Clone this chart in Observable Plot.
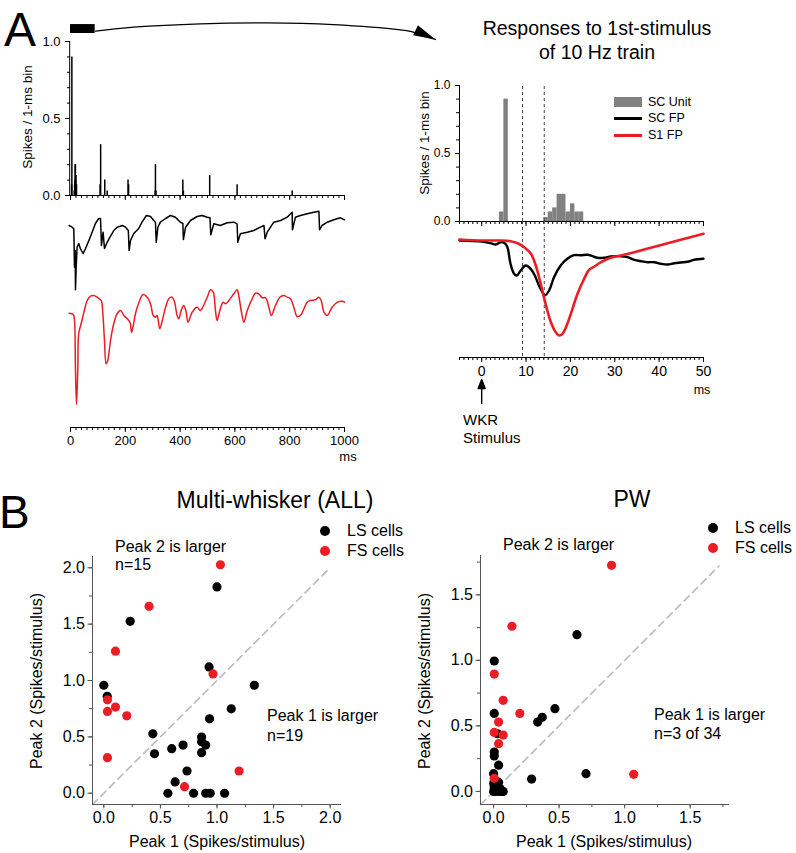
<!DOCTYPE html>
<html><head><meta charset="utf-8">
<script src="https://cdn.jsdelivr.net/npm/d3@7"></script>
<script src="https://cdn.jsdelivr.net/npm/@observablehq/plot@0.6"></script>
<style>
body{margin:0;background:#fff;}
#root{position:relative;width:796px;height:853px;overflow:hidden;background:#fff;font-family:"Liberation Sans",Arial,sans-serif;color:#000;}
</style></head><body><div id="root"></div><script>
// ---------- DATA ----------
// Panel A left: PSTH of the 10 Hz train (1-ms bins)
const trainBinMs  = [4, 5, 14, 15, 16, 17, 18, 19, 20, 21, 22, 108, 110, 125, 134, 210, 212, 309, 310, 312, 410, 412, 508, 608, 809];
const trainBinVal = [0.07, 0.9, 0.03, 0.07, 0.1, 0.2, 0.2, 0.07, 0.13, 0.07, 0.07, 0.07, 0.33, 0.1, 0.03, 0.1, 0.07, 0.03, 0.2, 0.03, 0.1, 0.03, 0.13, 0.07, 0.03];
const stimBlock = [0, 90];                 // ms window enlarged at right
// curved link from the block to the enlarged panel (ms, spikes/bin units of the left PSTH)
const linkArc = [[91,1.067],[230,1.093],[474,1.115],[719,1.121],[960,1.110],[1204,1.076],[1277,1.045],[1332,1.013]];
// SC field potential over the train (ms, relative amplitude)
const trainSCfp = [[-5,0],[6,-0.17],[12,-0.33],[14.6,-4.17],[17,-2.5],[18.2,-6.43],[20.7,-4.17],[24,-2.17],[30,-1.8],[36,-2.3],[46,-2.8],[55,-2.3],[67,-1.5],[79,-0.67],[91,0.2],[103,0.7],[109.5,0.7],[113,-2.0],[119,-0.67],[124,-2.3],[134,-1.67],[144,-1.17],[158,-0.5],[170,-0.17],[189,0],[201,-0.17],[211,-0.5],[214,-2.5],[219,-1.5],[231,-0.8],[249,-0.3],[261,0.33],[277,1.0],[292,0.9],[304,0.5],[310,0.33],[313,-1.67],[319,-0.17],[328,0.33],[347,0.7],[365,1.0],[383,0.83],[401,0.33],[410,0.2],[412,-1.4],[420,-0.17],[438,0.5],[462,0.9],[480,1.0],[499,0.83],[509,0.77],[512,-0.93],[523,0.17],[547,0],[572,0.27],[596,0.33],[608,0.17],[610.5,-1.67],[620,-0.83],[645,-0.67],[669,-0.5],[693,-0.17],[706,0],[710,-1.33],[718,-0.67],[742,0.33],[767,0.5],[791,0.83],[803,1.17],[809,1.33],[810,-0.43],[821,0.83],[839,1.0],[864,1.17],[888,1.33],[906.5,1.43],[909,-0.43],[918,0],[937,0.33],[961,0.57],[985,0.77],[1000,0.57]];
// S1 field potential over the train
const trainS1fp = [[-5,0.03],[10,-0.1],[14.6,-0.7],[18,-5.37],[21.9,-9.1],[26.8,-5.37],[30,-2.0],[39,-1.0],[49,0.13],[61,1.3],[73,1.73],[85,1.8],[97,1.63],[112,1.3],[118,-0.03],[124,-2.7],[130,-5.03],[136,-4.7],[146,-2.7],[158,-1.0],[170,-0.03],[182,0.3],[195,-0.2],[207,-0.53],[217,-0.87],[223,-1.87],[229,-1.2],[237,-0.03],[250,1.13],[265,1.9],[280,1.63],[292,0.97],[302,-0.2],[310,-0.37],[316,-0.2],[326,-1.53],[335,-0.7],[347,0.63],[359,1.47],[371,1.63],[380,1.13],[389,-0.2],[395,-0.53],[404,0.3],[413,0.8],[421,0.3],[429,-0.87],[444,0.13],[462,0.63],[474,0.3],[499,1.63],[511,2.37],[521,2.13],[529,0.3],[535,-0.7],[545,0.3],[557,1.13],[566,0.97],[578,1.3],[596,1.97],[608,2.37],[614,1.8],[623,0.3],[633,-0.87],[645,0.3],[663,1.47],[675,2.03],[687,1.97],[700,1.57],[712,1.57],[724,0.63],[733,-0.2],[748,0.8],[764,1.63],[779,1.8],[791,1.63],[803,1.47],[815,0.63],[827,-0.3],[839,-0.2],[864,1.13],[876,1.3],[894,1.37],[906,1.63],[915,1.3],[925,0.13],[937,-0.2],[955,0.63],[974,1.13],[992,1.23],[1000,1.13]];

// Panel A right: response to 1st stimulus
const scBinStart = [4, 5, 14, 15, 16, 17, 18, 19, 20, 21, 22];
const scBinVal   = [0.07, 0.9, 0.03, 0.07, 0.1, 0.2, 0.2, 0.07, 0.13, 0.07, 0.07];
const dashMs = [9.2, 14.1];
const firstSCfp = [[-5,0],[0,-0.1],[2,-0.27],[3.2,-0.4],[4.3,-0.17],[5.2,-0.27],[5.8,-0.67],[6.5,-2.33],[7.3,-3.33],[7.9,-3.5],[8.8,-3.0],[9.9,-2.5],[10.7,-2.67],[11.8,-3.33],[12.9,-4.5],[13.7,-5.17],[14.2,-5.5],[15.2,-5.0],[16.3,-3.67],[17.8,-2.5],[19.3,-1.83],[20.8,-1.47],[22.3,-1.47],[23.9,-1.43],[25,-1.57],[26.1,-1.73],[27.6,-1.73],[29.1,-1.6],[31.4,-1.57],[32.9,-1.67],[34.4,-1.93],[35.9,-2.07],[37.4,-2.17],[38.9,-2.17],[40.4,-2.33],[41.9,-2.4],[43.4,-2.27],[44.9,-2.2],[46.4,-2.13],[47.9,-1.93],[50,-1.83]];
const firstS1fp = [[-5,0.1],[0,0],[4.3,0],[6.5,-0.07],[8.1,-0.27],[9.6,-0.67],[11.1,-1.33],[12.2,-2.5],[13.3,-4.33],[14.4,-6.33],[15.6,-8.17],[16.7,-9.17],[17.5,-9.5],[18.2,-9.33],[19,-8.67],[20.1,-7.33],[21.6,-5.33],[23.1,-3.83],[24.2,-2.93],[25.4,-2.6],[26.9,-2.17],[29.1,-1.73],[31.4,-1.5],[34.4,-1.17],[38.1,-0.73],[41.9,-0.27],[45.7,0.17],[50,0.67]];

// Panel B: Peak 1 vs Peak 2 (spikes/stimulus)
const allLS = [[1.0,1.83],[0.233,1.525],[0.93,1.12],[0.0,0.958],[0.03,0.86],[1.33,0.958],[1.126,0.749],[0.934,0.66],[0.433,0.527],[0.448,0.35],[0.60,0.395],[0.70,0.427],[0.864,0.498],[0.864,0.457],[0.90,0.427],[0.864,0.36],[0.735,0.197],[0.63,0.10],[0.566,0.0],[0.793,0.0],[0.90,0.0],[0.94,0.0],[1.067,0.0]];
const allFS = [[1.03,2.027],[0.40,1.658],[0.103,1.26],[0.965,1.058],[0.032,0.829],[0.032,0.726],[0.103,0.764],[0.203,0.687],[0.032,0.315],[1.195,0.197],[0.713,0.058]];
const pwLS = [[0.636,1.196],[0.005,0.995],[0.005,0.595],[0.468,0.631],[0.371,0.565],[0.336,0.529],[0.03,0.44],[0.005,0.30],[0.005,0.27],[0.038,0.20],[0.0,0.135],[0.005,0.03],[0.038,0.07],[0.0,0.0],[0.038,0.0],[0.073,0.0],[0.29,0.094],[0.705,0.135],[0.02,0.01],[0.0,0.06],[0.05,0.02],[0.06,0.0],[0.01,0.0]];
const pwFS = [[0.90,1.725],[0.14,1.26],[0.005,0.895],[0.073,0.695],[0.20,0.595],[0.038,0.529],[0.005,0.45],[0.073,0.43],[0.038,0.364],[0.005,0.10],[1.069,0.13]];
const allDiag = [-0.1, 1.98];
const pwDiag = [-0.1, 1.72];

// ---------- HELPERS ----------
const FONT = '"Liberation Sans", Arial, Helvetica, sans-serif';
const RED = "#ec1c24";
const GRAY = "#808080";
const root = document.getElementById("root");
const baseStyle = (size) => `font-family:${FONT};font-size:${size}px;background:transparent;overflow:visible;color:#000;`;
const blank = () => "";
const f1 = d3.format(".1f");
const plain = d => String(d);

function place(svg, left, top) {
  svg.style.position = "absolute";
  svg.style.left = left + "px";
  svg.style.top = top + "px";
  svg.style.maxWidth = "none";
  root.appendChild(svg);
}
function label(text, x, y, opt = {}) {
  const d = document.createElement("div");
  d.textContent = text;
  const size = opt.size || 13;
  const a = opt.anchor || "start";
  const tx = a === "middle" ? "-50%" : a === "end" ? "-100%" : "0";
  d.style.cssText = `position:absolute;left:${x}px;top:${y}px;font-family:${FONT};font-size:${size}px;line-height:1;white-space:nowrap;color:#000;transform:translate(${tx},-50%)${opt.rotate ? ` rotate(${opt.rotate}deg)` : ""};`;
  root.appendChild(d);
}
function box(x, y, w, h, bg, radius) {
  const d = document.createElement("div");
  d.style.cssText = `position:absolute;left:${x}px;top:${y}px;width:${w}px;height:${h}px;background:${bg};${radius ? `border-radius:${radius}px;` : ""}`;
  root.appendChild(d);
}
const arrowShape = {
  draw(ctx, l, r) {
    ctx.moveTo(0, 0); ctx.lineTo(0, -l + 6);
    ctx.moveTo(0, -l); ctx.lineTo(-r, -l + 9); ctx.lineTo(r, -l + 9); ctx.closePath();
  }
};

// ---------- PANEL A LEFT: PSTH ----------
const trainBins = trainBinMs.map((t, i) => ({t, v: trainBinVal[i]}));
const xTrain = [0, 1000];
place(Plot.plot({
  width: 450, height: 205, marginLeft: 70, marginRight: 106, marginTop: 41, marginBottom: 10,
  style: baseStyle(13),
  x: {domain: xTrain, axis: null}, y: {domain: [0, 1], axis: null},
  marks: [
    Plot.ruleX(trainBins, {x: "t", y1: 0, y2: "v", strokeWidth: 1.5}),
    Plot.ruleX([xTrain[0]], {x: d => d - 3}),
    Plot.ruleY([0]),
    Plot.axisY({ticks: d3.range(0, 1.001, 0.1), tickSize: 3, tickFormat: blank, label: null}),
    Plot.axisY({ticks: [0, 0.5, 1], tickSize: 5, tickPadding: 5, tickFormat: f1, label: null}),
    Plot.axisX({ticks: d3.range(0, 1001, 20), tickSize: 3, tickFormat: blank, label: null}),
    Plot.axisX({ticks: d3.range(0, 1001, 200), tickSize: 5, tickFormat: blank, label: null}),
    Plot.rect([stimBlock], {x1: d => d[0], x2: d => d[1], y1: 1.052, y2: 1.11, fill: "black"}),
    Plot.line(linkArc, {x: d => d[0], y: d => d[1], curve: "natural", strokeWidth: 1.3}),
    Plot.vector([linkArc[linkArc.length - 1]], {x: d => d[0], y: d => d[1], shape: "spike", length: 22, r: 5.5, rotate: 115, anchor: "end", fill: "black", stroke: "none"})
  ]
}), 0, 0);

// ---------- PANEL A LEFT: field potentials ----------
const redOffset = -8.8;
place(Plot.plot({
  width: 450, height: 276, marginLeft: 70, marginRight: 106, marginTop: 0, marginBottom: 45,
  style: baseStyle(13),
  x: {domain: xTrain, axis: null}, y: {domain: [-20.2, 2.9], axis: null},
  marks: [
    Plot.line(trainSCfp, {x: d => d[0], y: d => d[1], strokeWidth: 1.5}),
    Plot.line(trainS1fp, {x: d => d[0], y: d => d[1] + redOffset, stroke: RED, strokeWidth: 1.5, curve: "catmull-rom"}),
    Plot.ruleY([-20.2]),
    Plot.axisX({ticks: d3.range(0, 1001, 20), tickSize: 3, tickFormat: blank, label: null}),
    Plot.axisX({ticks: d3.range(0, 1001, 200), tickSize: 5, tickPadding: 3.5, tickFormat: plain, label: null})
  ]
}), 0, 196);
label("ms", 348, 456, {size: 13, anchor: "middle"});
label("Spikes / 1-ms bin", 28, 117, {size: 13.5, anchor: "middle", rotate: -90});
label("A", 4, 6 + 24, {size: 48});

// ---------- PANEL A RIGHT: PSTH ----------
const scBins = scBinStart.map((t, i) => ({t, v: scBinVal[i]}));
const xFirst = [-5, 50];
place(Plot.plot({
  width: 396, height: 231, marginLeft: 59, marginRight: 93, marginTop: 85, marginBottom: 10,
  style: baseStyle(12),
  x: {domain: xFirst, axis: null}, y: {domain: [0, 1], axis: null},
  marks: [
    Plot.rectY(scBins, {x1: "t", x2: d => d.t + 1, y: "v", fill: GRAY, inset: 0}),
    Plot.ruleX(dashMs, {y1: 0, y2: 1.015, stroke: "#444", strokeDasharray: "3,3"}),
    Plot.ruleX([xFirst[0]]),
    Plot.ruleY([0]),
    Plot.axisY({ticks: d3.range(0, 1.001, 0.1), tickSize: 3, tickFormat: blank, label: null}),
    Plot.axisY({ticks: [0, 0.5, 1], tickSize: 4, tickPadding: 5, tickFormat: f1, label: null}),
    Plot.axisX({ticks: d3.range(-5, 51, 1), tickSize: 3, tickFormat: blank, label: null}),
    Plot.axisX({ticks: d3.range(0, 51, 10), tickSize: 5, tickFormat: blank, label: null})
  ]
}), 400, 0);

// ---------- PANEL A RIGHT: field potentials ----------
place(Plot.plot({
  width: 396, height: 186, marginLeft: 59, marginRight: 93, marginTop: 0, marginBottom: 50,
  style: baseStyle(14),
  x: {domain: xFirst, axis: null}, y: {domain: [-11.7, 1.9], axis: null},
  marks: [
    Plot.ruleX(dashMs, {stroke: "#444", strokeDasharray: "3,3"}),
    Plot.line(firstSCfp, {x: d => d[0], y: d => d[1], strokeWidth: 2.4, curve: "catmull-rom"}),
    Plot.line(firstS1fp, {x: d => d[0], y: d => d[1], stroke: RED, strokeWidth: 2.6, curve: "catmull-rom"}),
    Plot.ruleY([-11.7]),
    Plot.axisX({ticks: d3.range(-5, 51, 1), tickSize: 3, tickFormat: blank, label: null}),
    Plot.axisX({ticks: d3.range(0, 51, 10), tickSize: 5, tickPadding: 4, tickFormat: plain, label: null}),
    Plot.vector([0], {x: d => d, frameAnchor: "bottom", dy: 46, length: 24, r: 3.5, rotate: 0, anchor: "start", shape: arrowShape, stroke: "black", fill: "black", strokeWidth: 1.4})
  ]
}), 400, 221);
label("ms", 702, 390, {size: 12.5, anchor: "middle"});
label("WKR", 463, 419, {size: 15});
label("Stimulus", 463, 437, {size: 15});
label("Spikes / 1-ms bin", 425, 143, {size: 13.5, anchor: "middle", rotate: -90});
label("Responses to 1st-stimulus", 597, 29, {size: 19.5, anchor: "middle"});
label("of 10 Hz train", 597, 53, {size: 19.5, anchor: "middle"});
// legend
box(614, 97, 28, 10, GRAY);
box(614, 117, 28, 2.6, "#000");
box(614, 134, 28, 2.6, RED);
label("SC Unit", 648, 102, {size: 12.5});
label("SC FP", 648, 118, {size: 12.5});
label("S1 FP", 648, 135, {size: 12.5});

// ---------- PANEL B ----------
function scatter({ls, fs, dom, diag, width, ml, mr, mt, mb}) {
  const major = d3.range(0, dom[1] + 1e-9, 0.5);
  const minor = d3.range(0, dom[1] + 1e-9, 0.25);
  return Plot.plot({
    width, height: 373, marginLeft: ml, marginRight: mr, marginTop: mt, marginBottom: mb,
    style: baseStyle(16),
    x: {domain: dom, axis: null}, y: {domain: dom, axis: null},
    marks: [
      Plot.line(diag, {x: d => d, y: d => d, stroke: "#bdbdbd", strokeWidth: 1.7, strokeDasharray: "7,5"}),
      Plot.ruleX([dom[0]], {stroke: "#555"}),
      Plot.ruleY([dom[0]], {stroke: "#555"}),
      Plot.axisX({ticks: minor, tickSize: 3, tickFormat: blank, label: null, stroke: "#555"}),
      Plot.axisX({ticks: major, tickSize: 4.5, tickPadding: 2.5, tickFormat: f1, label: null, stroke: "#555"}),
      Plot.axisY({ticks: minor, tickSize: 3, tickFormat: blank, label: null, stroke: "#555"}),
      Plot.axisY({ticks: major, tickSize: 4.5, tickPadding: 3, tickFormat: f1, label: null, stroke: "#555"}),
      Plot.dot(ls, {x: d => d[0], y: d => d[1], r: 4.6, fill: "black"}),
      Plot.dot(fs, {x: d => d[0], y: d => d[1], r: 4.6, fill: RED})
    ]
  });
}
place(scatter({ls: allLS, fs: allFS, dom: [-0.1, 2.1], diag: allDiag, width: 400, ml: 92, mr: 59, mt: 76, mb: 49}), 0, 480);
place(scatter({ls: pwLS, fs: pwFS, dom: [-0.1, 1.8], diag: pwDiag, width: 396, ml: 80, mr: 67, mt: 75, mb: 49}), 400, 480);

label("B", -1, 489 + 23, {size: 46});
label("Multi-whisker (ALL)", 275, 500, {size: 23, anchor: "middle"});
label("PW", 632, 499, {size: 23, anchor: "middle"});
for (const [cx, tx] of [[325, 347], [713, 735]]) {
  const y0 = cx === 325 ? 531 : 528;
  box(cx - 4.6, y0 - 4.6, 9.2, 9.2, "#000", 5);
  box(cx - 4.6, y0 + 20 - 4.6, 9.2, 9.2, RED, 5);
  label("LS cells", tx, y0, {size: 16});
  label("FS cells", tx, y0 + 20, {size: 16});
}
label("Peak 2 is larger", 115, 547, {size: 16});
label("n=15", 115, 565, {size: 16});
label("Peak 1 is larger", 267, 716, {size: 16});
label("n=19", 267, 736, {size: 16});
label("Peak 2 is larger", 503, 545, {size: 16});
label("Peak 1 is larger", 654, 715, {size: 16});
label("n=3 of 34", 654, 734, {size: 16});
label("Peak 1 (Spikes/stimulus)", 217, 842, {size: 16, anchor: "middle"});
label("Peak 1 (Spikes/stimulus)", 604, 842, {size: 16, anchor: "middle"});
label("Peak 2 (Spikes/stimulus)", 37, 681, {size: 16, anchor: "middle", rotate: -90});
label("Peak 2 (Spikes/stimulus)", 425, 681, {size: 16, anchor: "middle", rotate: -90});
</script></body></html>
